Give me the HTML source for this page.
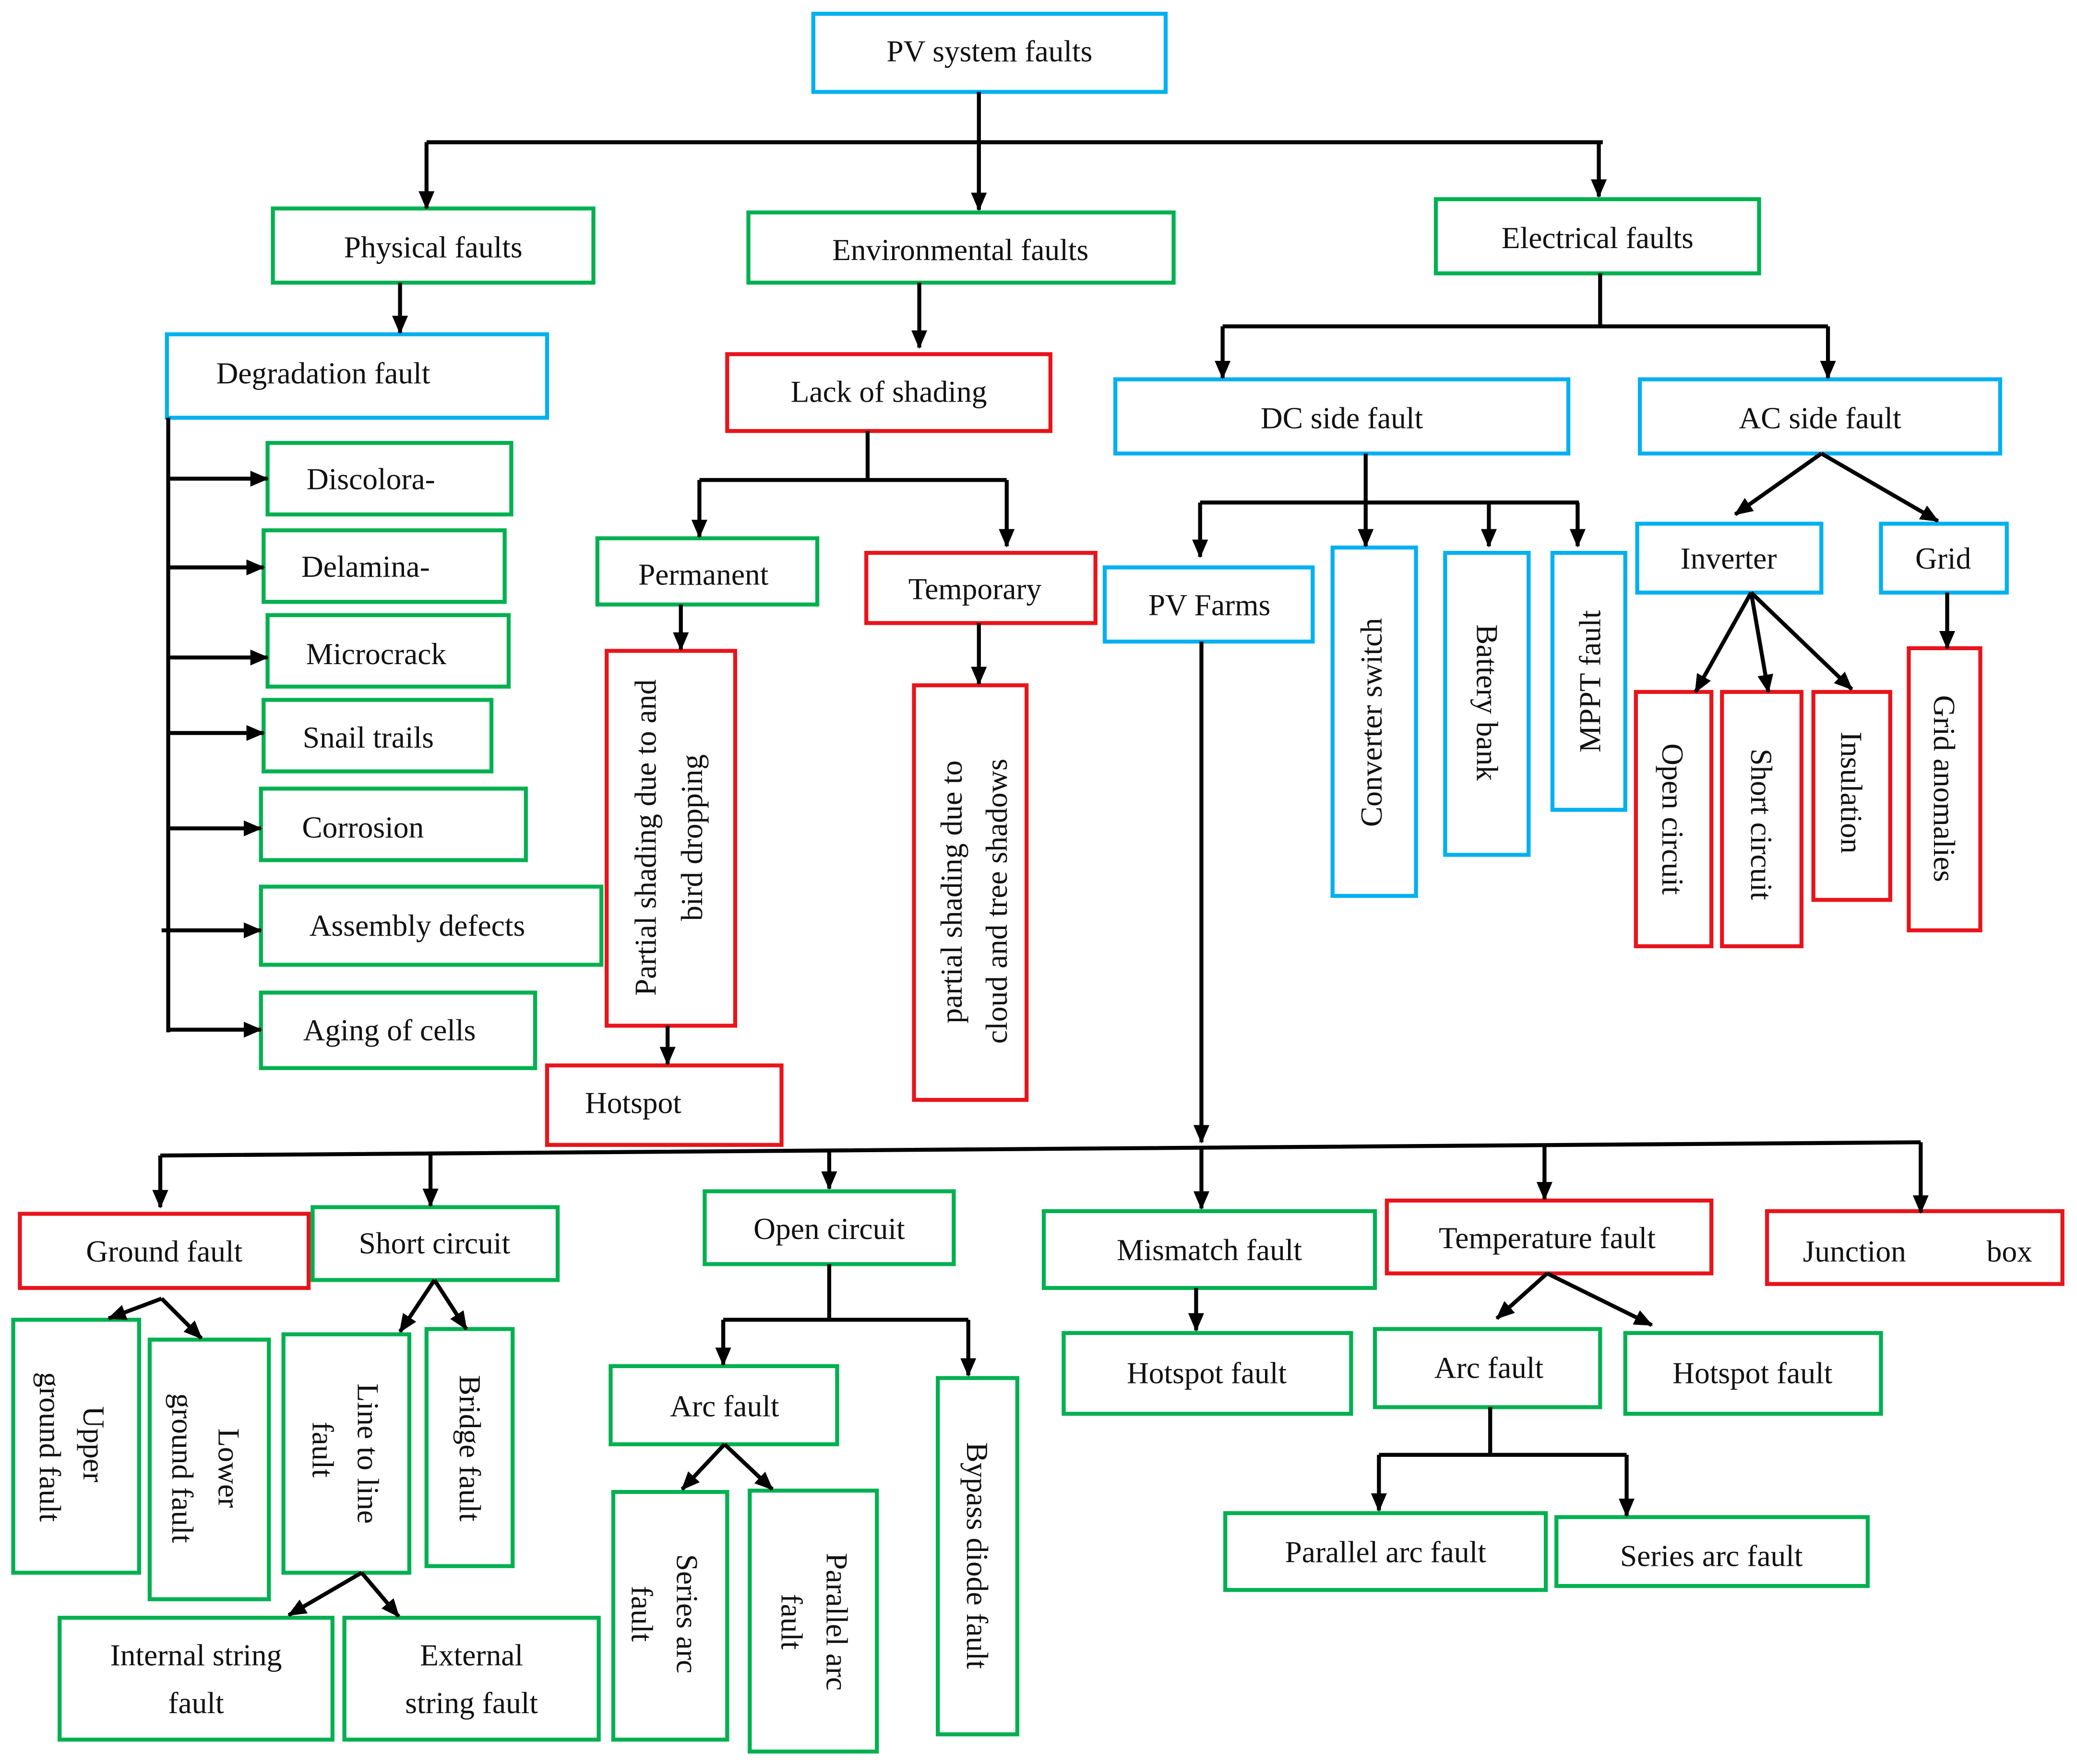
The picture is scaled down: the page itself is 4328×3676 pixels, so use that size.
<!DOCTYPE html>
<html><head><meta charset="utf-8"><style>
html,body{margin:0;padding:0;background:#fff}
svg{display:block}
text{font-family:"Liberation Serif",serif;font-size:23px;fill:#111}
</style></head><body>
<svg width="4328" height="3676" viewBox="0 0 1568 1331" xmlns="http://www.w3.org/2000/svg">
<defs><marker id="a" markerWidth="8" markerHeight="8" refX="7" refY="4" orient="auto" markerUnits="userSpaceOnUse"><path d="M0,0 L8,4 L0,8 z" fill="#000"/></marker>
<marker id="b" markerWidth="14" markerHeight="14" refX="13" refY="7" orient="auto" markerUnits="userSpaceOnUse"><path d="M0,1 L14,7 L0,13 z" fill="#000"/></marker></defs>
<g fill="none" stroke-width="3">
<g stroke="#00B0F0">
<rect x="614" y="10" width="266" height="59"/>
<rect x="126" y="252" width="287" height="63"/>
<rect x="842" y="286" width="342" height="56"/>
<rect x="1238" y="286" width="272" height="56"/>
<rect x="834" y="428" width="157" height="56"/>
<rect x="1006" y="413" width="63" height="263"/>
<rect x="1091" y="417" width="63" height="228"/>
<rect x="1172" y="417" width="55" height="194"/>
<rect x="1236" y="395" width="139" height="52"/>
<rect x="1420" y="395" width="95" height="52"/>
</g>
<g stroke="#00B050">
<rect x="206" y="157" width="242" height="56"/>
<rect x="565" y="160" width="321" height="53"/>
<rect x="1084" y="150" width="244" height="56"/>
<rect x="202" y="334" width="184" height="54"/>
<rect x="199" y="400" width="182" height="54"/>
<rect x="202" y="464" width="182" height="54"/>
<rect x="199" y="528" width="172" height="54"/>
<rect x="197" y="595" width="200" height="54"/>
<rect x="197" y="669" width="257" height="59"/>
<rect x="197" y="749" width="207" height="57"/>
<rect x="451" y="406" width="166" height="50"/>
<rect x="236" y="911" width="185" height="55"/>
<rect x="532" y="899" width="188" height="55"/>
<rect x="788" y="914" width="250" height="58"/>
<rect x="10" y="996" width="95" height="191"/>
<rect x="113" y="1011" width="90" height="196"/>
<rect x="214" y="1007" width="95" height="180"/>
<rect x="322" y="1003" width="65" height="179"/>
<rect x="45" y="1221" width="206" height="92"/>
<rect x="260" y="1221" width="192" height="92"/>
<rect x="461" y="1031" width="171" height="59"/>
<rect x="708" y="1040" width="60" height="269"/>
<rect x="463" y="1126" width="86" height="187"/>
<rect x="566" y="1125" width="96" height="197"/>
<rect x="803" y="1006" width="217" height="61"/>
<rect x="1038" y="1003" width="170" height="59"/>
<rect x="1227" y="1006" width="193" height="61"/>
<rect x="925" y="1142" width="242" height="58"/>
<rect x="1175" y="1145" width="235" height="52"/>
</g>
<g stroke="#E8141B">
<rect x="549" y="267" width="244" height="58"/>
<rect x="654" y="417" width="173" height="53"/>
<rect x="1235" y="522" width="57" height="192"/>
<rect x="1300" y="522" width="60" height="192"/>
<rect x="1369" y="522" width="58" height="157"/>
<rect x="1441" y="489" width="54" height="213"/>
<rect x="458" y="491" width="97" height="283"/>
<rect x="690" y="517" width="85" height="313"/>
<rect x="413" y="804" width="177" height="60"/>
<rect x="15" y="916" width="218" height="56"/>
<rect x="1047" y="906" width="245" height="55"/>
<rect x="1334" y="914" width="223" height="55"/>
</g>
<g stroke="#000">
<path d="M739,69V157M322,107H1210M127,315V779M655,325V362M528,362H760M906,379H1192M1208,246H1208M923,246H1380M121,872L1450,862M626,954V996M546,996H731M1125,1062V1098M1041,1098H1228"/>
<path d="M1208,206V245"/>
<g marker-end="url(#b)">
<path d="M322,107V157"/><path d="M739,107V158"/><path d="M1207,107V148"/>
<path d="M302,213V251"/><path d="M694,213V262"/>
<path d="M923,246V285"/><path d="M1380,246V285"/>
<path d="M127,361H202"/><path d="M127,428H199"/><path d="M127,496H202"/><path d="M127,553H199"/><path d="M127,625H197"/><path d="M122,702H197"/><path d="M127,777H197"/>
<path d="M528,362V405"/><path d="M760,362V412"/>
<path d="M514,456V490"/><path d="M739,470V516"/><path d="M504,774V803"/>
<path d="M1031,342V412"/><path d="M906,379V420"/><path d="M1124,379V412"/><path d="M1191,379V412"/>
<path d="M1375,342L1310,388"/><path d="M1375,342L1463,393"/>
<path d="M1322,447L1280,522"/><path d="M1322,447L1335,522"/><path d="M1322,447L1398,520"/>
<path d="M1470,447V489"/>
<path d="M907,484V862"/>
<path d="M121,872V911"/><path d="M325,870V910"/><path d="M626,868V897"/><path d="M907,866V912"/><path d="M1166,864V905"/><path d="M1450,862V915"/>
<path d="M122,980L82,995"/><path d="M122,980L152,1010"/>
<path d="M328,966L302,1005"/><path d="M328,966L352,1003"/>
<path d="M546,996V1030"/><path d="M731,996V1038"/>
<path d="M547,1090L515,1124"/><path d="M547,1090L583,1124"/>
<path d="M273,1187L218,1219"/><path d="M273,1187L301,1220"/>
<path d="M903,972V1004"/>
<path d="M1168,961L1130,995"/><path d="M1168,961L1247,1000"/>
<path d="M1041,1098V1140"/><path d="M1228,1098V1144"/>
</g>
</g>
</g>
<g text-anchor="middle">
<text x="747" y="46">PV system faults</text>
<text x="327" y="194">Physical  faults</text>
<text x="725" y="196">Environmental faults</text>
<text x="1206" y="187">Electrical faults</text>
<text x="244" y="289">Degradation fault</text>
<text x="671" y="303">Lack of shading</text>
<text x="1013" y="323">DC side fault</text>
<text x="1374" y="323">AC side fault</text>
<text x="280" y="369">Discolora-</text>
<text x="276" y="435">Delamina-</text>
<text x="284" y="501">Microcrack</text>
<text x="278" y="564">Snail trails</text>
<text x="274" y="632">Corrosion</text>
<text x="315" y="706">Assembly defects</text>
<text x="294" y="785">Aging of cells</text>
<text x="531" y="441">Permanent</text>
<text x="736" y="452">Temporary</text>
<text x="913" y="464">PV Farms</text>
<text x="1305" y="429">Inverter</text>
<text x="1467" y="429">Grid</text>
<text x="478" y="840">Hotspot</text>
<text x="124" y="952">Ground fault</text>
<text x="328" y="946">Short circuit</text>
<text x="626" y="935">Open circuit</text>
<text x="913" y="951">Mismatch fault</text>
<text x="1168" y="942">Temperature fault</text>
<text x="1400" y="952" text-anchor="start" x-comment="" >​</text>
<text x="1400" y="952">Junction</text><text x="1517" y="952">box</text>
<text x="148" y="1257">Internal string</text><text x="148" y="1293">fault</text>
<text x="356" y="1257">External</text><text x="356" y="1293">string fault</text>
<text x="547" y="1069">Arc fault</text>
<text x="911" y="1044">Hotspot fault</text>
<text x="1124" y="1040">Arc fault</text>
<text x="1323" y="1044">Hotspot fault</text>
<text x="1046" y="1179">Parallel arc fault</text>
<text x="1292" y="1182">Series arc fault</text>
<!-- vertical, reading bottom-to-top -->
<text transform="translate(1043,545) rotate(-90)">Converter switch</text>
<text transform="translate(1208,514) rotate(-90)">MPPT fault</text>
<text transform="translate(495,632) rotate(-90)">Partial shading due to  and</text>
<text transform="translate(530,632) rotate(-90)">bird  dropping</text>
<text transform="translate(726,673) rotate(-90)">partial  shading  due  to</text>
<text transform="translate(760,680) rotate(-90)">cloud and tree shadows</text>
<!-- vertical, reading top-to-bottom -->
<text transform="translate(1115,530) rotate(90)">Battery bank</text>
<text transform="translate(1255,618) rotate(90)">Open    circuit</text>
<text transform="translate(1322,622) rotate(90)">Short  circuit</text>
<text transform="translate(1390,598) rotate(90)">Insulation</text>
<text transform="translate(1460,595) rotate(90)">Grid anomalies</text>
<text transform="translate(63,1090) rotate(90)">Upper</text>
<text transform="translate(30,1092) rotate(90)">ground fault</text>
<text transform="translate(165,1108) rotate(90)">Lower</text>
<text transform="translate(130,1108) rotate(90)">ground fault</text>
<text transform="translate(270,1097) rotate(90)">Line to line</text>
<text transform="translate(236,1094) rotate(90)">fault</text>
<text transform="translate(347,1093) rotate(90)">Bridge fault</text>
<text transform="translate(730,1174) rotate(90)">Bypass diode fault</text>
<text transform="translate(511,1218) rotate(90)">Series arc</text>
<text transform="translate(477,1218) rotate(90)">fault</text>
<text transform="translate(624,1224) rotate(90)">Parallel arc</text>
<text transform="translate(590,1224) rotate(90)">fault</text>
</g>
</svg>
</body></html>
